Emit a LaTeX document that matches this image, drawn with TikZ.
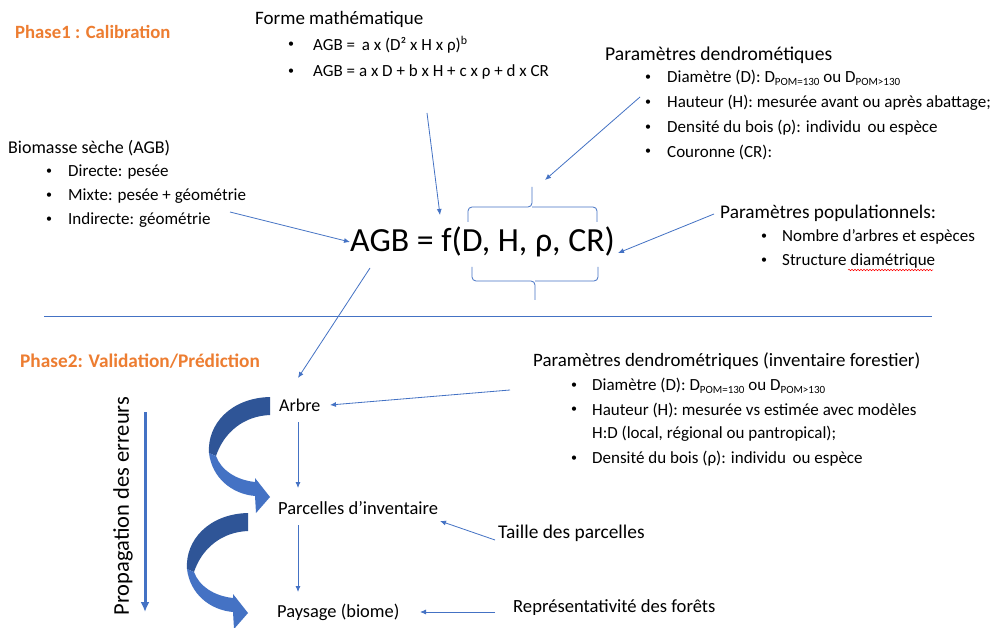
\documentclass[tikz,border=0pt]{standalone}
\usepackage{fontspec}
\setmainfont{Carlito}
\usetikzlibrary{arrows.meta,decorations.pathmorphing}
\definecolor{ablue}{HTML}{4472C4}
\definecolor{dblue}{HTML}{2F5597}
\definecolor{aorange}{HTML}{ED7D31}
\newcommand\pomsub[1]{\raisebox{-3pt}{\fontsize{11}{11}\selectfont #1}}
\newcommand\fs[1]{\fontsize{#1}{#1}\selectfont}
\tikzset{
  txt/.style={anchor=west, inner sep=0pt, font=\fs{18}},
  btxt/.style={anchor=west, inner sep=0pt, font=\fs{17}},
  bul/.style={anchor=west, inner sep=0pt, font=\fs{12}},
  phase/.style={anchor=west, inner sep=0pt, text=aorange, font=\bfseries\fs{18.7}},
  conn/.style={draw=ablue, line width=0.8pt, -{Latex[length=6pt,width=5pt]}},
  bracestyle/.style={draw=ablue, line width=0.8pt, rounded corners=4pt},
}
\begin{document}
\begin{tikzpicture}[x=1pt,y=-1pt]
\useasboundingbox (0,0) rectangle (996,628);
\clip (0,0) rectangle (996,628);
\fill[white] (0,0) rectangle (996,628);

% Phase 1
\node[phase] (ph1) at (15,32) {Phase1 : Calibration};

\node[txt, font=\fs{19}] (forme) at (255,19) {Forme mathématique};
\node[bul] (fb1) at (288,45) {\textbullet};
\node[btxt] (f1) at (313,45) {AGB =\, a x (D² x H x ρ)\textsuperscript{b}};
\node[bul] (fb2) at (288,72) {\textbullet};
\node[btxt] (f2) at (313,72) {AGB = a x D + b x H + c x ρ + d x CR};

\node[txt, font=\fs{19.6}] (dendro) at (605,55) {Paramètres dendrométiques};
\node[bul] (db1) at (645,78) {\textbullet};
\node[btxt] (d1) at (667,78) {Diamètre (D): D\pomsub{POM=130} ou D\pomsub{POM>130}};
\node[bul] (db2) at (645,103) {\textbullet};
\node[btxt] (d2) at (667,103) {Hauteur (H): mesurée avant ou après abattage;};
\node[bul] (db3) at (645,128) {\textbullet};
\node[btxt] (d3) at (667,128) {Densité du bois (ρ): individu\, ou espèce};
\node[bul] (db4) at (645,152) {\textbullet};
\node[btxt] (d4) at (667,152) {Couronne (CR):};

\node[txt] (bio) at (8,148) {Biomasse sèche (AGB)};
\node[bul] (bb1) at (46,172) {\textbullet};
\node[btxt] (b1) at (68,172) {Directe: pesée};
\node[bul] (bb2) at (46,196) {\textbullet};
\node[btxt] (b2) at (68,196) {Mixte: pesée + géométrie};
\node[bul] (bb3) at (46,220) {\textbullet};
\node[btxt] (b3) at (68,220) {Indirecte: géométrie};

\node[anchor=west, inner sep=0pt, font=\fs{33.8}] (agb) at (350,242) {AGB = f(D, H, ρ, CR)};

\node[txt, font=\fs{19.3}] (pop) at (720,213) {Paramètres populationnels:};
\node[bul] (pb1) at (761,237) {\textbullet};
\node[btxt] (p1) at (782,237) {Nombre d’arbres et espèces};
\node[bul] (pb2) at (761,261) {\textbullet};
\node[btxt] (p2) at (782,261) {Structure diamétrique};
\draw[red, line width=0.5pt, decorate, decoration={snake, amplitude=0.8pt, segment length=3pt}] (848,270) -- (933,270);

% braces
\draw[bracestyle] (468,222) -- (468,207) -- (532,207) -- (532,187);
\draw[bracestyle] (597,222) -- (597,207) -- (532,207);
\draw[bracestyle] (472,267) -- (472,281) -- (535,281) -- (535,300);
\draw[bracestyle] (598,267) -- (598,281) -- (535,281);
\coordinate (braceTop) at (545,180);

% separator
\draw[ablue, line width=0.8pt] (44,316) -- (932,316);

% Phase 2
\node[phase, font=\bfseries\fs{19.3}] (ph2) at (20,361) {Phase2: Validation/Prédiction};

\node[txt, font=\fs{18.9}] (inv) at (533,361) {Paramètres dendrométriques (inventaire forestier)};
\node[bul] (ib1) at (571,386) {\textbullet};
\node[btxt] (i1) at (592,386) {Diamètre (D): D\pomsub{POM=130} ou D\pomsub{POM>130}};
\node[bul] (ib2) at (571,410) {\textbullet};
\node[btxt] (i2) at (592,410) {Hauteur (H): mesurée vs estimée avec modèles};
\node[btxt] (i2b) at (592,434) {H:D (local, régional ou pantropical);};
\node[bul] (ib3) at (571,459) {\textbullet};
\node[btxt] (i3) at (592,459) {Densité du bois (ρ): individu\, ou espèce};

\node[txt] (arbre) at (279,405) {Arbre};
\node[txt, font=\fs{18.5}] (parc) at (278,508) {Parcelles d’inventaire};
\node[txt, font=\fs{19.4}] (taille) at (498,533) {Taille des parcelles};
\node[txt, font=\fs{18.4}] (pays) at (277,612) {Paysage (biome)};
\node[txt, font=\fs{18.6}] (repr) at (513,608) {Représentativité des forêts};

% connectors phase 1
\draw[conn] (230,212) -- (agb.west);
\draw[conn] (427,113) -- (440,215);
\draw[conn] (640,97) -- (braceTop);
\draw[conn] (pop.west) ++(-6,1) -- (618,253);
\draw[conn] (370,268) -- (298,378);

% connectors phase 2
\draw[conn] (510,390) -- (330,405);
\draw[conn] (298,422) -- (298,488);
\draw[conn] (298,525) -- (298,592);
\draw[conn] (495,540) -- (440,521);
\draw[conn] (495,612) -- (420,612);

% propagation
\draw[ablue, line width=3pt, -{Latex[length=10pt,width=9pt]}] (145,412) -- (145,612);
\node[anchor=center, inner sep=0pt, rotate=90, font=\fs{22.5}] (prop) at (123,506) {Propagation des erreurs};

% curved block arrows
\foreach \dx/\dy in {0/0,-22/116}{
\begin{scope}[shift={(\dx,\dy)}]
\fill[dblue] (270,397) .. controls (230,398) and (207,425) .. (209,453) -- (216,456) .. controls (224,432) and (244,416) .. (270,415) -- cycle;
\fill[ablue] (209,453) .. controls (212,478) and (232,494) .. (255,496) -- (256,513) -- (270,497) -- (255,478) -- (255,482) .. controls (236,480) and (221,470) .. (216,456) -- cycle;
\end{scope}
}
\end{tikzpicture}
\end{document}
